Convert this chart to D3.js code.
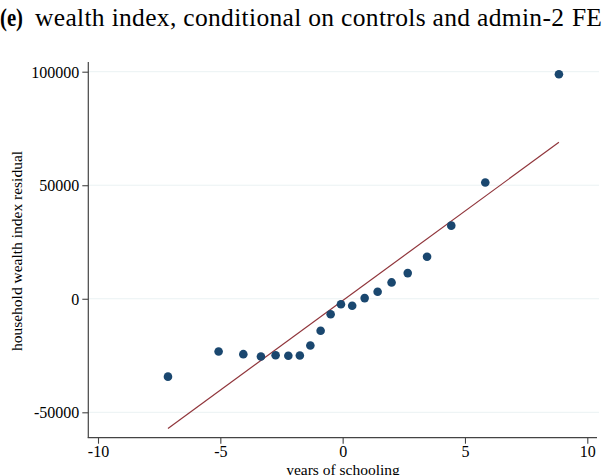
<!DOCTYPE html>
<html>
<head>
<meta charset="utf-8">
<script src="https://cdn.jsdelivr.net/npm/d3@7"></script>
<style>
  html, body { margin: 0; padding: 0; background: #fff; overflow: hidden; }
  svg { display: block; }
  svg text { font-family: "Liberation Serif", "Times New Roman", Times, serif !important; fill: #000; }
</style>
</head>
<body>
<svg id="chart" width="605" height="475"></svg>
<script>
// ---- data (binned scatter) ----
const schooling = [-7.14, -5.07, -4.06, -3.34, -2.74, -2.22, -1.75, -1.32, -0.90, -0.49, -0.07, 0.39, 0.90, 1.43, 2.00, 2.66, 3.45, 4.44, 5.83, 8.84];
const wealthResid = [-34300, -23200, -24400, -25400, -24900, -25100, -25000, -20600, -14100, -6800, -2400, -3100, 300, 3100, 7200, 11300, 18500, 32200, 51200, 98900];
// fitted line endpoints
const fitX = [-7.14, 8.84];
const fitY = [-57100, 68900];
const xTicks = [-10, -5, 0, 5, 10];
const yTicks = [-50000, 0, 50000, 100000];
const titleTag = "(e)";
const titleText = "wealth index, conditional on controls and admin-2";
const titleTail = "FE";
const xLabel = "years of schooling";
const yLabel = "household wealth index residual";

const svg = d3.select("#chart");
const x = d3.scaleLinear().domain([-10, 10]).range([98, 587.3]);
const y = d3.scaleLinear().domain([-50000, 100000]).range([412.3, 71.7]);

const pL = 88.3, pR = 599, pT = 62, pB = 437.7;
const fmt = d => String(d);  // plain hyphen-minus as in the reference

// gridlines
svg.append("g").selectAll("line").data(yTicks).join("line")
  .attr("x1", pL).attr("x2", pR)
  .attr("y1", d => y(d)).attr("y2", d => y(d))
  .attr("stroke", "#eaf2f3").attr("stroke-width", 1);

// y axis
const yAxis = svg.append("g").attr("transform", `translate(${pL},0)`)
  .call(d3.axisLeft(y).tickValues(yTicks).tickFormat(fmt).tickSize(6).tickPadding(3));
yAxis.select(".domain").remove();
yAxis.append("line").attr("x1", 0).attr("x2", 0).attr("y1", pT).attr("y2", pB)
  .attr("stroke", "#444").attr("stroke-width", 1.2);

// x axis
const xAxis = svg.append("g").attr("transform", `translate(0,${pB})`)
  .call(d3.axisBottom(x).tickValues(xTicks).tickFormat(fmt).tickSize(6).tickPadding(2));
xAxis.select(".domain").remove();
xAxis.append("line").attr("x1", pL - 0.6).attr("x2", 597).attr("y1", 0).attr("y2", 0)
  .attr("stroke", "#444").attr("stroke-width", 1.2);

svg.selectAll("g").attr("font-family", null).attr("font-size", null);
svg.selectAll(".tick line").attr("stroke", "#444").attr("stroke-width", 1.1);
svg.selectAll(".tick text").style("font-size", "16px").attr("fill", "#000");
yAxis.selectAll(".tick text").attr("dy", "0.34em");

// fit line
svg.append("line")
  .attr("x1", x(fitX[0])).attr("y1", y(fitY[0]))
  .attr("x2", x(fitX[1])).attr("y2", y(fitY[1]))
  .attr("stroke", "#90353b").attr("stroke-width", 1.2);

// points
svg.append("g").selectAll("circle").data(schooling.map((s, i) => [s, wealthResid[i]])).join("circle")
  .attr("cx", d => x(d[0])).attr("cy", d => y(d[1])).attr("r", 4.3)
  .attr("fill", "#1a476f");

// axis titles
svg.append("text").attr("x", 343).attr("y", 475).attr("text-anchor", "middle")
  .style("font-size", "15.5px").text(xLabel);
svg.append("text").attr("transform", "translate(22,251) rotate(-90)").attr("text-anchor", "middle")
  .style("font-size", "15.5px").text(yLabel);

// title
svg.append("text").attr("x", 0).attr("y", 26)
  .attr("textLength", 23).attr("lengthAdjust", "spacingAndGlyphs")
  .style("font-size", "25.5px").style("font-weight", "bold").text(titleTag);
svg.append("text").attr("x", 35).attr("y", 26)
  .attr("textLength", 529).attr("lengthAdjust", "spacing")
  .style("font-size", "25.5px").text(titleText);
svg.append("text").attr("x", 572).attr("y", 26)
  .style("font-size", "25.5px").text(titleTail);
</script>
</body>
</html>
